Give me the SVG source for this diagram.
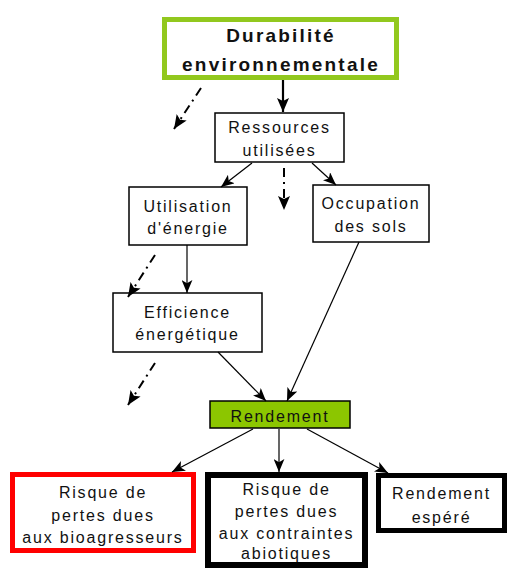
<svg xmlns="http://www.w3.org/2000/svg" width="530" height="581" viewBox="0 0 530 581">
<defs>
<marker id="ah" viewBox="0 0 12 10" refX="12" refY="5" markerWidth="13" markerHeight="11" markerUnits="userSpaceOnUse" orient="auto">
<path d="M0,0 L12,5 L0,10 L3,5 Z" fill="#000"/>
</marker>
<marker id="ahb" viewBox="0 0 14 12" refX="14" refY="6" markerWidth="14" markerHeight="12" markerUnits="userSpaceOnUse" orient="auto">
<path d="M0,0 L14,6 L0,12 L3,6 Z" fill="#000"/>
</marker>
<style>
.t{font-family:"Liberation Sans",Arial,sans-serif;font-size:16px;letter-spacing:1.8px;fill:#111;text-anchor:middle}
.b{font-family:"Liberation Sans",Arial,sans-serif;font-size:19px;font-weight:bold;letter-spacing:2.2px;fill:#111;text-anchor:middle}
.box{fill:#fff;stroke:#000;stroke-width:1.5}
.c{fill:none;stroke:#000;stroke-width:1.2;marker-end:url(#ah)}
.d{fill:none;stroke:#000;stroke-width:2;stroke-dasharray:9,5,2,5;marker-end:url(#ahb)}
</style>
</defs>
<g id="durabilite">
<rect x="164.5" y="19.5" width="232" height="58" fill="#fff" stroke="#92c81e" stroke-width="5"/>
<text class="b" x="281" y="42">Durabilité</text>
<text class="b" x="281" y="71">environnementale</text>
</g>
<g id="ressources">
<rect class="box" x="215" y="113" width="129" height="49"/>
<text class="t" x="279.5" y="133">Ressources</text>
<text class="t" x="279.5" y="156">utilisées</text>
</g>
<g id="utilisation">
<rect class="box" x="129" y="187" width="118" height="58"/>
<text class="t" x="188" y="212">Utilisation</text>
<text class="t" x="188" y="234">d'énergie</text>
</g>
<g id="occupation">
<rect class="box" x="313" y="185" width="116" height="57"/>
<text class="t" x="371" y="209">Occupation</text>
<text class="t" x="371" y="232">des sols</text>
</g>
<g id="efficience">
<rect class="box" x="113" y="293" width="149" height="59"/>
<text class="t" x="187.5" y="318">Efficience</text>
<text class="t" x="187.5" y="340">énergétique</text>
</g>
<g id="rendement">
<rect x="210" y="401" width="140" height="27" fill="#8cc600" stroke="#000" stroke-width="1.5"/>
<text class="t" x="280" y="422">Rendement</text>
</g>
<g id="bioagresseurs">
<rect x="12.5" y="474.5" width="181" height="76" fill="#fff" stroke="#ff0000" stroke-width="5"/>
<text class="t" x="103" y="498">Risque de</text>
<text class="t" x="103" y="521">pertes dues</text>
<text class="t" x="103" y="543">aux bioagresseurs</text>
</g>
<g id="abiotiques">
<rect x="208" y="475" width="157" height="90" fill="#fff" stroke="#000" stroke-width="6"/>
<text class="t" x="286.5" y="495">Risque de</text>
<text class="t" x="286.5" y="517">pertes dues</text>
<text class="t" x="286.5" y="539">aux contraintes</text>
<text class="t" x="286.5" y="559">abiotiques</text>
</g>
<g id="espere">
<rect x="378.5" y="475.5" width="126" height="55" fill="#fff" stroke="#000" stroke-width="5"/>
<text class="t" x="441.5" y="499">Rendement</text>
<text class="t" x="441.5" y="523">espéré</text>
</g>
<g id="connectors">
<line x1="283" y1="80" x2="283" y2="112" fill="none" stroke="#000" stroke-width="2.2" marker-end="url(#ahb)"/>
<line class="c" x1="252" y1="163" x2="221" y2="187"/>
<line class="c" x1="312" y1="163" x2="336" y2="185"/>
<line class="c" x1="187" y1="245" x2="187" y2="293"/>
<line class="c" x1="359" y1="242" x2="287" y2="401"/>
<line class="c" x1="218" y1="352" x2="266" y2="401"/>
<line class="c" x1="253" y1="429" x2="172" y2="472"/>
<line class="c" x1="279" y1="429" x2="279" y2="472"/>
<line class="c" x1="307" y1="429" x2="388" y2="473"/>
<line class="d" x1="201" y1="88" x2="174" y2="129"/>
<line class="d" x1="284" y1="168" x2="284" y2="210"/>
<line class="d" x1="155" y1="255" x2="128" y2="297"/>
<line class="d" x1="155" y1="363" x2="128" y2="405"/>
</g>
</svg>
